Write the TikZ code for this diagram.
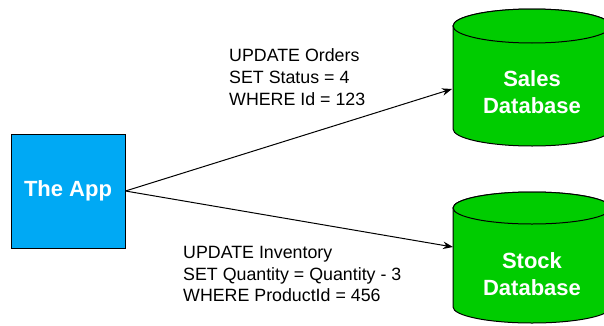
\documentclass[tikz,border=0pt]{standalone}
\usepackage{fontspec}
\setmainfont{Liberation Sans}
\usetikzlibrary{arrows.meta}
\definecolor{appblue}{HTML}{00A9F4}
\definecolor{dbgreen}{HTML}{00CC00}
\tikzset{
  x=1pt, y=1pt,
  appbox/.style={draw=black, fill=appblue, line width=1pt, minimum width=114pt,
    minimum height=114pt, inner sep=0pt, text=white,
    font=\fontsize{22}{27}\selectfont\bfseries},
  dblabel/.style={text=white, align=center, inner sep=0pt,
    font=\fontsize{22}{27}\selectfont\bfseries},
  sqltext/.style={align=left, inner sep=0pt, anchor=base west,
    font=\fontsize{17.8}{21.7}\selectfont},
  flow/.style={draw=black, line width=1pt, -{Stealth[length=10pt,width=7.5pt]}},
  dbbody/.style={fill=dbgreen, draw=black, line width=1pt},
}
% a cylinder: left x, right x, top ellipse centre y, bottom ellipse centre y, y radius
\newcommand{\drawdb}[5]{%
  \pgfmathsetmacro{\rx}{(#2-#1)/2}%
  \pgfmathsetmacro{\cx}{(#2+#1)/2}%
  \path[dbbody] (#1,#3) -- (#1,#4)
    arc[start angle=180, end angle=360, x radius=\rx, y radius=#5]
    -- (#2,#3) arc[start angle=0, end angle=180, x radius=\rx, y radius=#5] -- cycle;
  \path[dbbody] (\cx,#3) ellipse[x radius=\rx, y radius=#5];
}
\begin{document}
\begin{tikzpicture}
  \useasboundingbox (0,0) rectangle (604,325);
  \begin{scope}
    \clip (0,0) rectangle (604,325);
    \drawdb{453}{611}{299}{196}{17}
    \drawdb{453}{611}{117}{18}{16}
  \end{scope}

  \node[appbox] (app) at (68,134) {The App};
  \node[dblabel] (sales) at (532,233) {Sales\\Database};
  \node[dblabel] (stock) at (532,50.5) {Stock\\Database};
  \coordinate (salesin) at (452,236);
  \coordinate (stockin) at (453,78);

  \draw[flow] (app.east) -- (salesin);
  \draw[flow] (app.east) -- (stockin);

  % base west of a multi-line node sits on the baseline of its last line
  \node[sqltext] (orders) at (229,220) {UPDATE Orders\\SET Status = 4\\WHERE Id = 123};
  \node[sqltext] (inventory) at (183,23.3) {UPDATE Inventory\\SET Quantity = Quantity - 3\\WHERE ProductId = 456};
\end{tikzpicture}
\end{document}
